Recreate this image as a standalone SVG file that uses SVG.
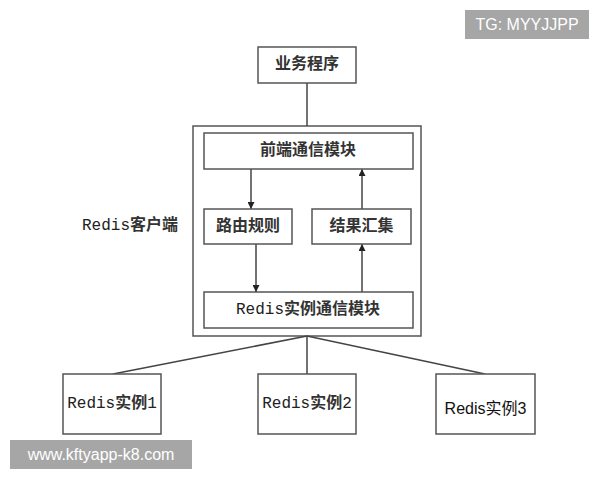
<svg xmlns="http://www.w3.org/2000/svg" width="600" height="480" viewBox="0 0 600 480">
<style>
.box{fill:#fff;stroke:#555;stroke-width:1.5}
.t{font-family:"Liberation Mono","Noto Sans CJK SC",monospace;font-size:16px;fill:#333;text-anchor:middle;dominant-baseline:central;font-weight:bold}
.r{font-weight:normal;fill:#222}
.ts{font-family:"Liberation Sans","Noto Sans CJK SC",sans-serif;font-size:16px;fill:#111;text-anchor:middle;dominant-baseline:central}
.ln{stroke:#444;stroke-width:1.5;fill:none}
.wm{font-family:"Liberation Sans","DejaVu Sans",sans-serif;font-size:16px;fill:#fff;text-anchor:middle;dominant-baseline:central}
</style>
<defs>
<marker id="ah" viewBox="0 0 10 10" refX="10" refY="5" markerWidth="7" markerHeight="7" orient="auto" markerUnits="userSpaceOnUse">
<path d="M0,0 L10,5 L0,10 z" fill="#222"/>
</marker>
</defs>
<rect width="600" height="480" fill="#fff"/>
<g id="client">
<rect class="box" x="193" y="126" width="228" height="210"/>
<text class="t" x="130" y="226"><tspan class="r">Redis</tspan>客户端</text>
</g>
<g id="connectors">
<line class="ln" x1="307" y1="83" x2="307" y2="126"/>
<line class="ln" x1="251" y1="169" x2="251" y2="209" marker-end="url(#ah)"/>
<line class="ln" x1="256" y1="244" x2="256" y2="292" marker-end="url(#ah)"/>
<line class="ln" x1="362" y1="209" x2="362" y2="169" marker-end="url(#ah)"/>
<line class="ln" x1="362" y1="292" x2="362" y2="244" marker-end="url(#ah)"/>
<line class="ln" x1="307" y1="336" x2="113" y2="374"/>
<line class="ln" x1="307" y1="336" x2="307" y2="374"/>
<line class="ln" x1="307" y1="336" x2="485" y2="374"/>
</g>
<g id="app"><rect class="box" x="258" y="47" width="98" height="36"/><text class="t" x="307" y="65">业务程序</text></g>
<g id="frontend"><rect class="box" x="204" y="133" width="209" height="36"/><text class="t" x="308" y="151">前端通信模块</text></g>
<g id="router"><rect class="box" x="204" y="209" width="88" height="35"/><text class="t" x="248" y="226.5">路由规则</text></g>
<g id="collect"><rect class="box" x="312" y="209" width="99" height="35"/><text class="t" x="361.5" y="226.5">结果汇集</text></g>
<g id="instcomm"><rect class="box" x="204" y="292" width="209" height="36"/><text class="t" x="308" y="310"><tspan class="r">Redis</tspan>实例通信模块</text></g>
<g id="inst1"><rect class="box" x="63" y="374" width="98" height="60"/><text class="t" x="112" y="404"><tspan class="r">Redis</tspan>实例<tspan class="r">1</tspan></text></g>
<g id="inst2"><rect class="box" x="258" y="374" width="98" height="60"/><text class="t" x="307" y="404"><tspan class="r">Redis</tspan>实例<tspan class="r">2</tspan></text></g>
<g id="inst3"><rect class="box" x="436" y="374" width="99" height="60"/><text class="ts" x="485.5" y="408">Redis实例3</text></g>
<g id="wm1"><rect x="465" y="10" width="124" height="29" fill="#a6a6a6"/><text class="wm" x="527" y="24.5">TG: MYYJJPP</text></g>
<g id="wm2"><rect x="10" y="440" width="182" height="29" fill="#a6a6a6"/><text class="wm" x="101" y="454.5">www.kftyapp-k8.com</text></g>
</svg>
